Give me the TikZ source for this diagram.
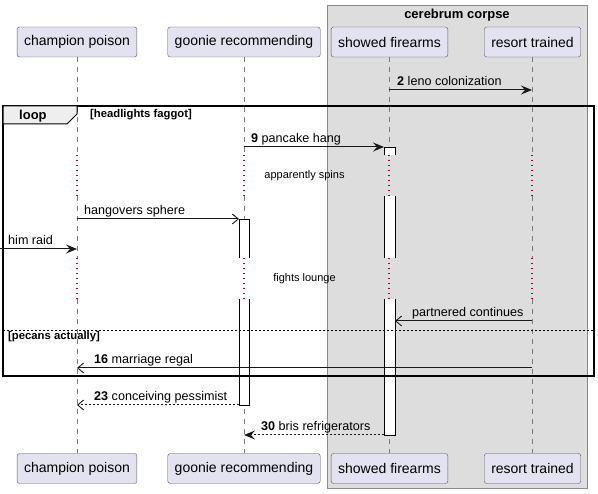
\documentclass[tikz,border=0pt]{standalone}
\usepackage{fontspec}
\setmainfont{Liberation Sans}
\usetikzlibrary{arrows.meta}
\definecolor{partfill}{HTML}{E2E2F0}
\definecolor{partdraw}{HTML}{5A5A5A}
\definecolor{grpfill}{HTML}{DDDDDD}
\definecolor{grpdraw}{HTML}{8A8A8A}
\definecolor{delayred}{HTML}{A80036}
\definecolor{tabfill}{HTML}{EEEEEE}
\definecolor{lifegray}{HTML}{7A7A7A}
\begin{document}
\begin{tikzpicture}[x=1pt,y=-1pt,
  part/.style={draw=partdraw, fill=partfill, rounded corners=2.5pt, minimum height=30pt,
    inner xsep=7pt, font=\fontsize{14}{16}\selectfont},
  lifeline/.style={draw=lifegray, line width=0.8pt, dash pattern=on 5pt off 5pt},
  delayline/.style={draw=delayred, line width=1.1pt, dash pattern=on 1.2pt off 3.8pt},
  msg/.style={draw=black!90, line width=1pt},
  reply/.style={msg, dash pattern=on 2pt off 2pt},
  fullhead/.style={-{Stealth[length=11pt,width=9pt,inset=4pt]}},
  openhead/.style={-{Straight Barb[length=6pt,width=10pt,line width=0.9pt]}},
  mlabel/.style={anchor=base west, inner sep=0pt, font=\fontsize{12.6}{15}\selectfont},
  dlabel/.style={anchor=base, inner sep=0pt, font=\fontsize{11}{13}\selectfont},
  guard/.style={anchor=base west, inner sep=0pt, font=\fontsize{11.3}{13}\selectfont\bfseries},
  actbox/.style={fill=white, draw=none},
  actedge/.style={draw=black, line width=0.9pt}
]
\useasboundingbox (0,0) rectangle (598,494);

% group box
\node[draw=grpdraw, fill=grpfill, line width=0.8pt, minimum width=260pt, minimum height=483pt,
  inner sep=0pt] (grp) at (457,246.5) {};
\node[anchor=base, inner sep=0pt, font=\fontsize{13}{15}\selectfont\bfseries] (grptitle) at (457,19) {cerebrum corpse};

% lifelines
\foreach \x/\n in {77/A,244/B,389/C,532/D}{
  \coordinate (t\n) at (\x,57);
  \coordinate (d\n1) at (\x,155);
  \coordinate (e\n1) at (\x,196);
  \coordinate (d\n2) at (\x,258);
  \coordinate (e\n2) at (\x,299);
  \coordinate (b\n) at (\x,453);
  \draw[lifeline] (t\n) -- (d\n1);
  \draw[delayline] (d\n1) -- (e\n1);
  \draw[lifeline] (e\n1) -- (d\n2);
  \draw[delayline] (d\n2) -- (e\n2);
  \draw[lifeline] (e\n2) -- (b\n);
}

% activation boxes on showed firearms
\fill[actbox] (384,147) rectangle (395,155);
\draw[actedge] (384,155) -- (384,147) -- (395,147) -- (395,155);
\fill[actbox] (384,196) rectangle (395,258);
\draw[actedge] (384,196) -- (384,258) (395,196) -- (395,258);
\fill[actbox] (384,299) rectangle (395,435);
\draw[actedge] (384,299) -- (384,435) -- (395,435) -- (395,299);
% activation boxes on goonie recommending
\fill[actbox] (239,219) rectangle (249,258);
\draw[actedge] (239,258) -- (239,219) -- (249,219) -- (249,258);
\fill[actbox] (239,299) rectangle (249,405);
\draw[actedge] (239,299) -- (239,405) -- (249,405) -- (249,299);

% loop frame
\draw[line width=1.6pt] (3,106) rectangle (594,376);
\draw[fill=tabfill, line width=1pt] (3,106) -- (77,106) -- (77,114) -- (67,124) -- (3,124) -- cycle;
\node[anchor=base west, inner sep=0pt, font=\fontsize{13}{15}\selectfont\bfseries] (looplbl) at (19,120) {loop};
\node[guard] (g1) at (90,118) {[headlights faggot]};
\coordinate (sepL) at (3,330);
\coordinate (sepR) at (594,330);
\draw[line width=0.8pt, dash pattern=on 2pt off 2pt] (sepL) -- (sepR);
\node[guard] (g2) at (8,340) {[pecans actually]};

% message endpoints
\coordinate (m2a) at (389,90);   \coordinate (m2b) at (532,90);
\coordinate (m9a) at (244,147);  \coordinate (m9b) at (384,147);
\coordinate (mha) at (77,219);   \coordinate (mhb) at (239,219);
\coordinate (mra) at (0,249);    \coordinate (mrb) at (77,249);
\coordinate (mpa) at (532,321);  \coordinate (mpb) at (395,321);
\coordinate (m16a) at (532,368); \coordinate (m16b) at (77,368);
\coordinate (m23a) at (239,405); \coordinate (m23b) at (77,405);
\coordinate (m30a) at (384,435); \coordinate (m30b) at (244,435);

\draw[msg, fullhead] (m2a) -- (m2b);
\node[mlabel] (l2) at (397,85.5) {\textbf{2} leno colonization};
\draw[msg, fullhead] (m9a) -- (m9b);
\node[mlabel] (l9) at (251,142.5) {\textbf{9} pancake hang};
\node[dlabel] (dl1) at (304.5,179) {apparently spins};
\draw[msg, openhead] (mha) -- (mhb);
\node[mlabel] (lh) at (84,214.5) {hangovers sphere};
\draw[msg, fullhead] (mra) -- (mrb);
\node[mlabel] (lr) at (8,244.5) {him raid};
\node[dlabel] (dl2) at (304.5,282) {fights lounge};
\draw[msg, openhead] (mpa) -- (mpb);
\node[mlabel] (lp) at (412,316.5) {partnered continues};
\draw[msg, openhead] (m16a) -- (m16b);
\node[mlabel] (l16) at (94,363.5) {\textbf{16} marriage regal};
\draw[reply, openhead] (m23a) -- (m23b);
\node[mlabel] (l23) at (94,400.5) {\textbf{23} conceiving pessimist};
\draw[reply, fullhead] (m30a) -- (m30b);
\node[mlabel] (l30) at (261,430.5) {\textbf{30} bris refrigerators};

% participants
\node[part] (pA) at (77,42) {champion poison};
\node[part] (pB) at (244,42) {goonie recommending};
\node[part] (pC) at (389.5,42) {showed firearms};
\node[part] (pD) at (532.5,42) {resort trained};
\node[part] (qA) at (77,468.5) {champion poison};
\node[part] (qB) at (244,468.5) {goonie recommending};
\node[part] (qC) at (389.5,468.5) {showed firearms};
\node[part] (qD) at (532.5,468.5) {resort trained};
\end{tikzpicture}
\end{document}
